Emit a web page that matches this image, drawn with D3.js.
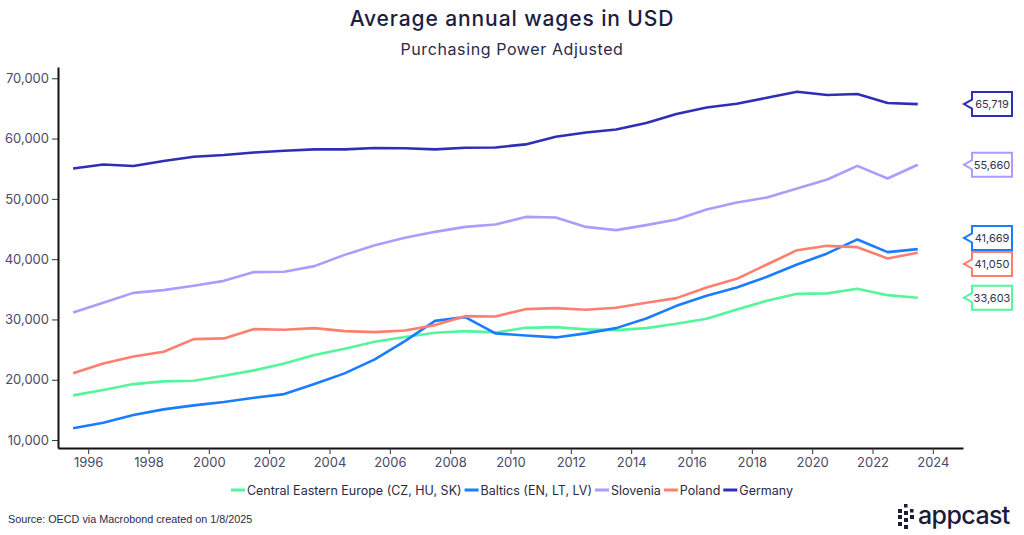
<!DOCTYPE html>
<html>
<head>
<meta charset="utf-8">
<script src="https://cdn.jsdelivr.net/npm/d3@7"></script>
<style>
  html, body { margin: 0; padding: 0; background: #ffffff; }
  svg { display: block; font-family: Inter, "Noto Sans", sans-serif; }
</style>
</head>
<body>
<svg id="chart" width="1024" height="535"></svg>
<script>
// ---- data ----
const years = d3.range(1995, 2024); // 1995..2023
const seriesNames = ["Central Eastern Europe (CZ, HU, SK)", "Baltics (EN, LT, LV)", "Slovenia", "Poland", "Germany"];
const seriesColors = ["#55f59c", "#1a7cff", "#ab9cff", "#ff7f6e", "#2f2fb5"];
const ceeValues = [17410, 18290, 19280, 19730, 19830, 20660, 21550, 22710, 24090, 25130, 26290, 27100,
  27790, 28070, 27850, 28610, 28730, 28350, 28230, 28560, 29280, 30110, 31660, 33090, 34250, 34320, 35080, 34030, 33603];
const balticsValues = [11940, 12870, 14140, 15090, 15750, 16300, 17010, 17620, 19280, 21060, 23380, 26400,
  29770, 30390, 27690, 27350, 27020, 27690, 28560, 30170, 32260, 33920, 35310, 37070, 39120, 40950, 43270, 41160, 41669];
const sloveniaValues = [31170, 32760, 34410, 34860, 35580, 36400, 37850, 37900, 38840, 40710, 42320, 43550,
  44530, 45350, 45750, 47010, 46910, 45350, 44810, 45640, 46580, 48240, 49400, 50230, 51720, 53210, 55470, 53380, 55660];
const polandValues = [21060, 22710, 23870, 24640, 26740, 26860, 28400, 28280, 28560, 28070, 27900, 28170,
  29060, 30550, 30500, 31710, 31880, 31600, 31930, 32760, 33540, 35310, 36740, 39120, 41490, 42210, 41990, 40120, 41050];
const germanyValues = [55050, 55700, 55450, 56280, 56990, 57270, 57700, 57980, 58200, 58200, 58430, 58400,
  58200, 58480, 58530, 59030, 60300, 61020, 61510, 62570, 64070, 65160, 65770, 66770, 67760, 67220, 67380, 65890, 65719];
const yTickValues = [10000, 20000, 30000, 40000, 50000, 60000, 70000];
const xTickValues = d3.range(1996, 2025, 2);
const titleText = "Average annual wages in USD";
const subtitleText = "Purchasing Power Adjusted";
const sourceText = "Source: OECD via Macrobond created on 1/8/2025";

const allValues = [ceeValues, balticsValues, sloveniaValues, polandValues, germanyValues];
const series = seriesNames.map((name, i) => ({ name, color: seriesColors[i], values: allValues[i] }));

// ---- layout ----
const svg = d3.select("#chart");
const textColor = "#1d1d3f";
const tickColor = "#4a4a68";

const x = d3.scaleLinear().domain([1995, 2025]).range([58, 963]);
const y = d3.scaleLinear().domain([8680, 71870]).range([448, 67]);

// title
svg.append("text").attr("x", 512).attr("y", 26).attr("text-anchor", "middle")
  .attr("font-size", 21).attr("font-weight", 500).attr("letter-spacing", 0.9)
  .attr("fill", textColor).text(titleText);
svg.append("text").attr("x", 512).attr("y", 55).attr("text-anchor", "middle")
  .attr("font-size", 16).attr("font-weight", 400).attr("letter-spacing", 0.6)
  .attr("fill", "#2a2a4a").text(subtitleText);

// axes
const yAxis = d3.axisLeft(y).tickValues(yTickValues).tickFormat(d3.format(",")).tickSize(6).tickSizeOuter(0).tickPadding(3);
const xAxis = d3.axisBottom(x).tickValues(xTickValues).tickFormat(d3.format("d")).tickSize(6).tickSizeOuter(0).tickPadding(4);

const gy = svg.append("g").attr("transform", "translate(58,0)").call(yAxis);
const gx = svg.append("g").attr("transform", "translate(0,448)").call(xAxis);
[gx, gy].forEach(g => {
  g.select(".domain").attr("stroke", "#111").attr("stroke-width", 2);
  g.selectAll(".tick line").attr("stroke", "#333").attr("stroke-width", 1);
  g.selectAll(".tick text").attr("fill", tickColor).attr("font-size", 13)
    .attr("font-family", "Inter, 'Noto Sans', sans-serif");
});

// lines
const line = d3.line().x((d, i) => x(years[i] + 0.5)).y(d => y(d));
svg.append("g").selectAll("path").data(series).join("path")
  .attr("d", d => line(d.values))
  .attr("fill", "none")
  .attr("stroke", d => d.color)
  .attr("stroke-width", 2.6)
  .attr("stroke-linejoin", "round");

// end labels with collision avoidance
const labels = series.map(s => ({ s, value: s.values[s.values.length - 1], ty: y(s.values[s.values.length - 1]) }));
labels.sort((a, b) => a.ty - b.ty);
const minGap = 26;
for (let iter = 0; iter < 50; iter++) {
  for (let i = 0; i < labels.length - 1; i++) {
    const a = labels[i], b = labels[i + 1];
    const gap = b.ty - a.ty;
    if (gap < minGap) {
      const shift = (minGap - gap) / 2;
      a.ty -= shift; b.ty += shift;
    }
  }
}
const bx0 = 972, bw = 40, bh = 24, tipX = 964, notch = 4.5;
const lg = svg.append("g").selectAll("g").data(labels).join("g");
lg.append("path")
  .attr("d", d => {
    const t = d.ty - bh / 2, b = d.ty + bh / 2;
    return `M${bx0},${t} L${bx0 + bw},${t} L${bx0 + bw},${b} L${bx0},${b} L${bx0},${d.ty + notch} L${tipX},${d.ty} L${bx0},${d.ty - notch} Z`;
  })
  .attr("fill", "#fff").attr("stroke", d => d.s.color).attr("stroke-width", 2);
lg.append("text")
  .attr("x", bx0 + bw / 2).attr("y", d => d.ty + 4)
  .attr("text-anchor", "middle").attr("font-size", 11).attr("fill", "#33334d")
  .text(d => d3.format(",")(d.value));

// legend
const leg = svg.append("g").attr("transform", "translate(0,490)");
const items = leg.selectAll("g").data(series).join("g");
items.append("line").attr("x1", 0).attr("x2", 14).attr("y1", 0).attr("y2", 0)
  .attr("stroke", d => d.color).attr("stroke-width", 3);
items.append("text").attr("x", 16).attr("y", 4.5).attr("font-size", 12.5).attr("fill", "#2a2a48")
  .text(d => d.name);
let widths = [];
items.each(function () { widths.push(16 + this.querySelector("text").getComputedTextLength()); });
const itemGap = 3;
const total = d3.sum(widths) + itemGap * (widths.length - 1);
let cx = 512 - total / 2;
items.attr("transform", (d, i) => { const t = `translate(${cx},0)`; cx += widths[i] + itemGap; return t; });

// source
svg.append("text").attr("x", 8).attr("y", 523).attr("font-size", 10.8)
  .attr("font-family", "'Liberation Sans', Arial, sans-serif").attr("fill", "#2a2a48").text(sourceText);

// logo
const logo = svg.append("g").attr("transform", "translate(898,504)");
const sq = [[0, 5, 4], [0, 11, 4], [0, 18, 4], [6, 0, 3.5], [6, 7, 4], [6, 14, 4], [6, 21, 4], [12, 5, 3.5], [12, 11, 4]];
logo.selectAll("rect").data(sq).join("rect")
  .attr("x", d => d[0]).attr("y", d => d[1]).attr("width", d => d[2]).attr("height", d => d[2])
  .attr("fill", "#1b1b3a");
logo.append("text").attr("x", 20).attr("y", 20).attr("font-size", 25).attr("font-weight", 500)
  .attr("fill", "#1b1b3a").attr("font-family", "Inter, sans-serif").attr("letter-spacing", -0.6).text("appcast");
</script>
</body>
</html>
